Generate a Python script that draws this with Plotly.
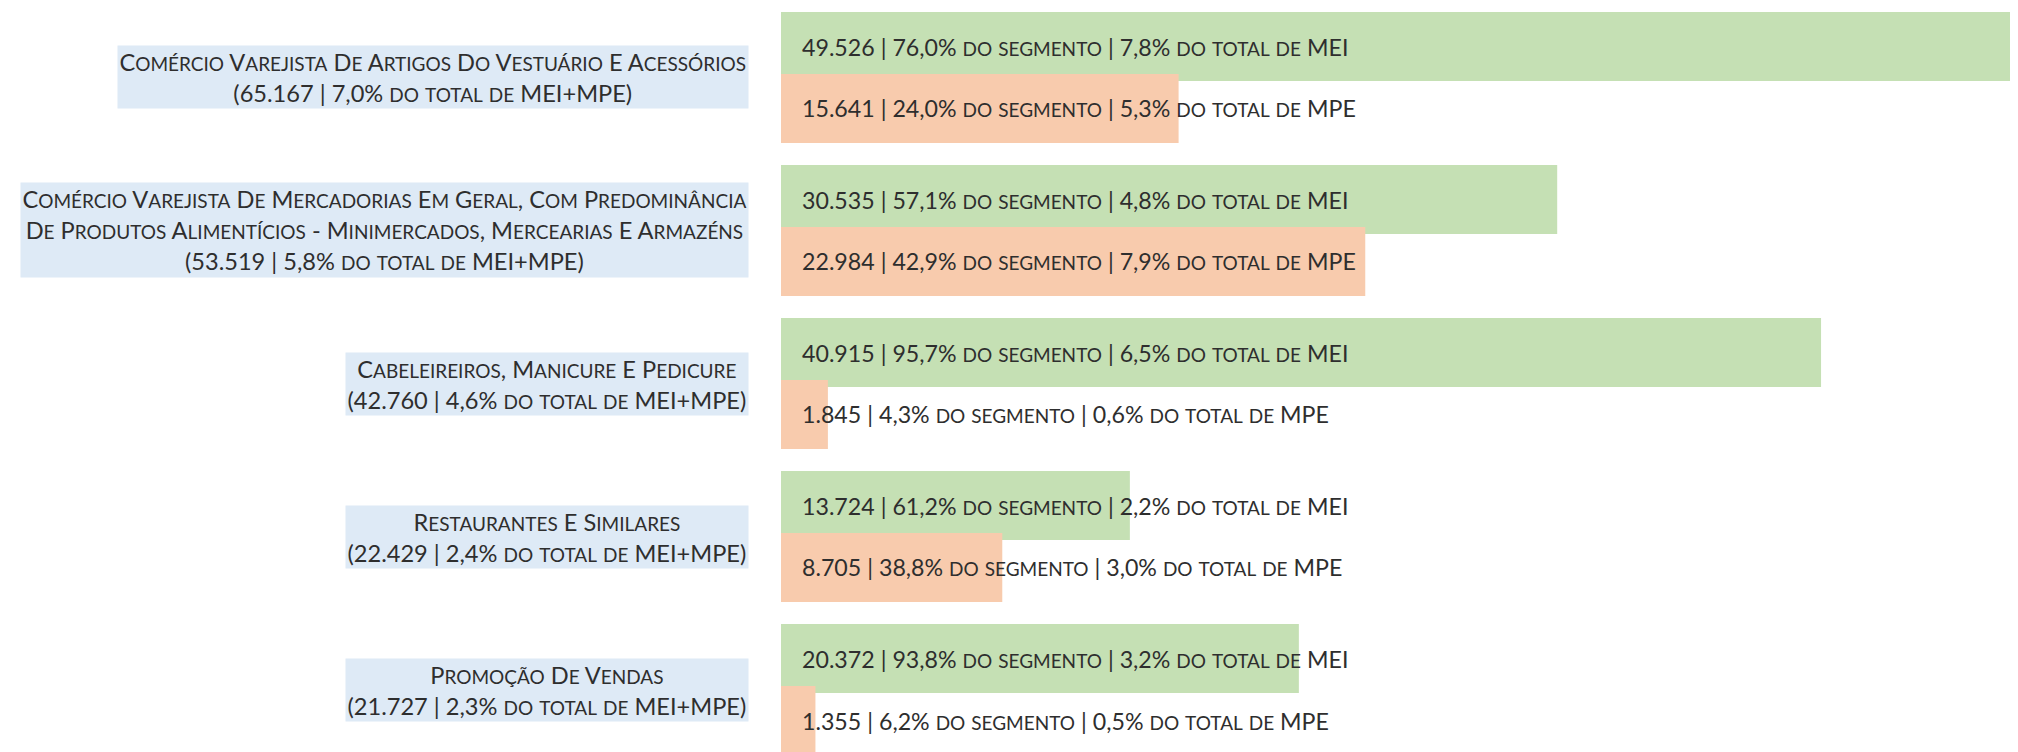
import plotly.graph_objects as go

categories = [
    "Comércio Varejista De Artigos Do Vestuário E Acessórios",
    "Comércio Varejista De Mercadorias Em Geral, Com Predominância<br>De Produtos Alimentícios - Minimercados, Mercearias E Armazéns",
    "Cabeleireiros, Manicure E Pedicure",
    "Restaurantes E Similares",
    "Promoção De Vendas",
]
totals = [65167, 53519, 42760, 22429, 21727]
total_pct = ["7,0%", "5,8%", "4,6%", "2,4%", "2,3%"]
mei = [49526, 30535, 40915, 13724, 20372]
mei_seg = ["76,0%", "57,1%", "95,7%", "61,2%", "93,8%"]
mei_tot = ["7,8%", "4,8%", "6,5%", "2,2%", "3,2%"]
mpe = [15641, 22984, 1845, 8705, 1355]
mpe_seg = ["24,0%", "42,9%", "4,3%", "38,8%", "6,2%"]
mpe_tot = ["5,3%", "7,9%", "0,6%", "3,0%", "0,5%"]

GREEN = "#C5E0B4"
ORANGE = "#F8CBAD"
LABEL_BG = "#DEEAF6"
TEXT = "#2E2E2E"
FONT = "Lato"


def fmt(v):
    return f"{v:,}".replace(",", ".")


def small_caps(s, big, small):
    """Render text as small caps using real text spans."""
    lines = s.split("<br>")
    out_lines = []
    for line in lines:
        runs = []
        cur_kind, cur = None, ""
        for ch in line:
            kind = "s" if ch.islower() else "b"
            if kind != cur_kind and cur:
                runs.append((cur_kind, cur))
                cur = ""
            cur_kind = kind
            cur += ch.upper() if kind == "s" else ch
        if cur:
            runs.append((cur_kind, cur))
        out_lines.append("".join(
            f'<span style="font-size:{small if k == "s" else big}px">{t}</span>' for k, t in runs))
    return "<br>".join(out_lines)


idx = list(range(len(categories)))
off = 0.2026
bw = 0.451
y_mei = [i - off for i in idx]
y_mpe = [i + off for i in idx]

fig = go.Figure()
fig.add_trace(go.Bar(y=y_mei, x=mei, orientation="h", width=bw,
                     marker=dict(color=GREEN, line=dict(width=0)), name="MEI", hoverinfo="skip"))
fig.add_trace(go.Bar(y=y_mpe, x=mpe, orientation="h", width=bw,
                     marker=dict(color=ORANGE, line=dict(width=0)), name="MPE", hoverinfo="skip"))

bar_font = dict(family=FONT, size=23.2, color=TEXT)
lab_font = dict(family=FONT, size=24.2, color=TEXT)
ann = []
for i in idx:
    ann.append(dict(x=0, y=y_mei[i], xref="x", yref="y", xanchor="left", yanchor="middle",
                    xshift=19, showarrow=False, font=bar_font,
                    text=small_caps(f"{fmt(mei[i])} | {mei_seg[i]} do segmento | {mei_tot[i]} do total de MEI", 23.2, 19)))
    ann.append(dict(x=0, y=y_mpe[i], xref="x", yref="y", xanchor="left", yanchor="middle",
                    xshift=19, showarrow=False, font=bar_font,
                    text=small_caps(f"{fmt(mpe[i])} | {mpe_seg[i]} do segmento | {mpe_tot[i]} do total de MPE", 23.2, 19)))
    ann.append(dict(x=0, y=i, xref="x", yref="y", xanchor="right", yanchor="middle",
                    xshift=-32, showarrow=False, font=lab_font, align="center",
                    bgcolor=LABEL_BG, borderpad=1.5,
                    text=small_caps(f"{categories[i]}<br>({fmt(totals[i])} | {total_pct[i]} do total de MEI+MPE)", 23.6, 19)))

# the page body adds an 8 px offset; margins/ranges compensate for it
fig.update_layout(
    width=2018, height=752,
    margin=dict(l=773, r=0, t=0, b=0),
    paper_bgcolor="white", plot_bgcolor="white",
    barmode="overlay", showlegend=False,
    annotations=ann,
    xaxis=dict(range=[0, 48977], visible=False, fixedrange=True),
    yaxis=dict(range=[4.4608, -0.4542], visible=False, fixedrange=True),
)
fig.write_html("out.html")
